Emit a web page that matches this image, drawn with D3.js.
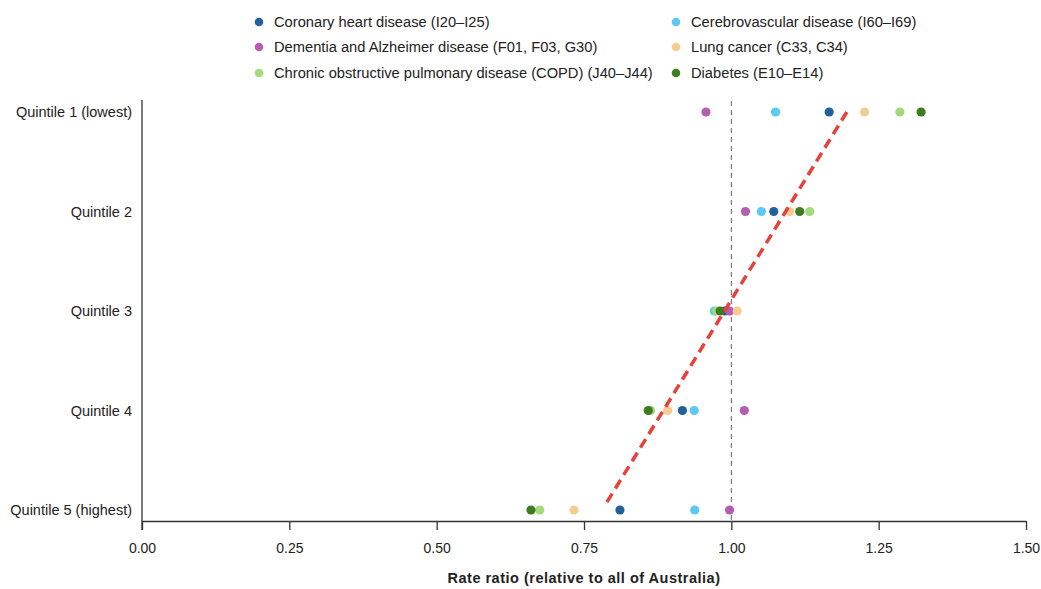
<!DOCTYPE html>
<html>
<head>
<meta charset="utf-8">
<script src="https://cdn.jsdelivr.net/npm/d3@7"></script>
<style>
  body { margin: 0; background: #fff; }
  text { font-family: "Liberation Sans", Arial, sans-serif; fill: #222; }
</style>
</head>
<body>
<div id="chart"></div>
<script>
// quintiles, top to bottom
var quintiles = ["Quintile 1 (lowest)", "Quintile 2", "Quintile 3", "Quintile 4", "Quintile 5 (highest)"]

var seriesNames = [
  "Coronary heart disease (I20\u2013I25)",
  "Cerebrovascular disease (I60\u2013I69)",
  "Dementia and Alzheimer disease (F01, F03, G30)",
  "Lung cancer (C33, C34)",
  "Chronic obstructive pulmonary disease (COPD) (J40\u2013J44)",
  "Diabetes (E10\u2013E14)"
]
var seriesColors = ["#22619b", "#5bc8f5", "#b65db2", "#f8cb93", "#a3da7d", "#3f7c20"]

// rate ratios per quintile (Q1..Q5)
var coronary = [1.166, 1.072, 0.989, 0.917, 0.811]
var cerebro = [1.075, 1.051, 0.971, 0.937, 0.938]
var dementia = [0.957, 1.024, 0.997, 1.022, 0.997]
var lung = [1.226, 1.099, 1.010, 0.892, 0.733]
var copd = [1.286, 1.133, 0.975, 0.863, 0.675]
var diabetes = [1.322, 1.116, 0.981, 0.859, 0.660]

var allSeries = [coronary, cerebro, dementia, lung, copd, diabetes]

// red dashed trend line (value, quintile position)
var trendX = [1.196, 0.788]
var trendQ = [0, 3.93]

var xTicks = [0, 0.25, 0.5, 0.75, 1.0, 1.25, 1.5]

var width = 1041, height = 589

var svg = d3.select("#chart")
  .append("svg")
  .attr("width", width)
  .attr("height", height)

var x = d3.scaleLinear().domain([0, 1.5]).range([142, 1026])
var yIdx = d3.scaleLinear().domain([0, 4]).range([112, 510])
var axisY = 521

// y axis line
svg.append("line")
  .attr("x1", 142).attr("x2", 142)
  .attr("y1", 100).attr("y2", axisY + 9)
  .attr("stroke", "#333").attr("stroke-width", 1.3)

// x axis
var xAxis = d3.axisBottom(x)
  .tickValues(xTicks)
  .tickFormat(d3.format(".2f"))
  .tickSize(9)
  .tickSizeOuter(0)

var gx = svg.append("g")
  .attr("transform", "translate(0," + axisY + ")")
  .call(xAxis)
gx.select(".domain").attr("stroke", "#333").attr("stroke-width", 1.3)
gx.selectAll(".tick line").attr("stroke", "#333").attr("stroke-width", 1.3)
gx.selectAll(".tick text")
  .attr("dy", "1.4em")
  .style("font-family", "Liberation Sans, Arial, sans-serif")
  .style("font-size", "14px")
  .attr("fill", "#222")

// axis title
svg.append("text")
  .attr("x", x(0.75))
  .attr("y", 583)
  .attr("text-anchor", "middle")
  .style("font-size", "14.5px")
  .style("font-weight", "bold")
  .style("letter-spacing", "0.5px")
  .text("Rate ratio (relative to all of Australia)")

// quintile labels
svg.selectAll(".qlabel")
  .data(quintiles)
  .enter()
  .append("text")
  .attr("class", "qlabel")
  .attr("x", 132)
  .attr("y", function (d, i) { return yIdx(i) })
  .attr("dy", "0.35em")
  .attr("text-anchor", "end")
  .style("font-size", "14.5px")
  .text(function (d) { return d })

// reference line at 1.00
svg.append("line")
  .attr("x1", x(1)).attr("x2", x(1))
  .attr("y1", 101).attr("y2", axisY)
  .attr("stroke", "#666")
  .attr("stroke-width", 1)
  .attr("stroke-dasharray", "5,4")

// dots
allSeries.forEach(function (vals, s) {
  svg.selectAll(".dot" + s)
    .data(vals)
    .enter()
    .append("circle")
    .attr("cx", function (d) { return x(d) })
    .attr("cy", function (d, i) { return yIdx(i) })
    .attr("r", 4.6)
    .attr("fill", seriesColors[s])
})

// trend line
svg.append("line")
  .attr("x1", x(trendX[0])).attr("y1", yIdx(trendQ[0]))
  .attr("x2", x(trendX[1])).attr("y2", yIdx(trendQ[1]))
  .attr("stroke", "#e8403a")
  .attr("stroke-width", 3.5)
  .attr("stroke-dasharray", "10,6")

// legend, two columns
var legendCols = [259, 676]
var legendRows = [22, 47, 73]
var legend = svg.selectAll(".leg")
  .data(seriesNames)
  .enter()
  .append("g")
  .attr("transform", function (d, i) {
    return "translate(" + legendCols[i % 2] + "," + legendRows[Math.floor(i / 2)] + ")"
  })
legend.append("circle")
  .attr("r", 4.3)
  .attr("fill", function (d, i) { return seriesColors[i] })
legend.append("text")
  .attr("x", 15)
  .attr("dy", "0.35em")
  .style("font-size", "14.7px")
  .text(function (d) { return d })
</script>
</body>
</html>
